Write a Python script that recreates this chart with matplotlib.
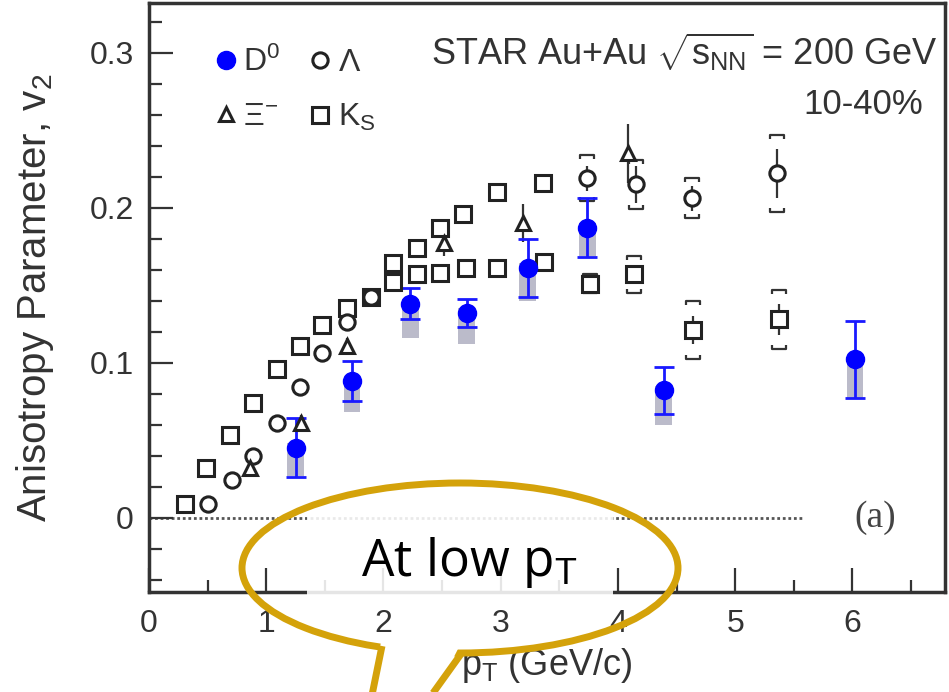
import numpy as np
import matplotlib.pyplot as plt
from matplotlib.patches import Ellipse, Polygon, Rectangle
from matplotlib.path import Path
from matplotlib.ticker import MultipleLocator

plt.rcParams['font.family'] = ['Liberation Sans', 'DejaVu Sans']
plt.rcParams['mathtext.fontset'] = 'custom'
plt.rcParams['mathtext.rm'] = 'Liberation Sans'
plt.rcParams['mathtext.it'] = 'Liberation Sans:italic'

# D0 (filled blue)
d0_pt = np.array([1.25, 1.73, 2.23, 2.71, 3.23, 3.74, 4.39, 6.02])
d0_v2 = np.array([0.045, 0.088, 0.138, 0.132, 0.161, 0.187, 0.082, 0.102])
d0_stat = np.array([0.019, 0.013, 0.010, 0.009, 0.019, 0.019, 0.015, 0.025])
d0_sys_lo = np.array([0.018, 0.020, 0.022, 0.020, 0.021, 0.018, 0.022, 0.025])
d0_sys_hi = np.array([0.003, 0.003, 0.003, 0.003, 0.003, 0.003, 0.003, 0.003])

# K0s (open squares)
ks_pt = np.array([0.31, 0.49, 0.69, 0.89, 1.09, 1.29, 1.48, 1.69, 1.89,
                  2.08, 2.29, 2.48, 2.68, 2.97, 3.36,
                  2.08, 2.29, 2.48, 2.70, 2.97, 3.37, 3.76, 4.14, 4.64, 5.37])
ks_v2 = np.array([0.009, 0.032, 0.053, 0.074, 0.096, 0.111, 0.124, 0.135, 0.142,
                  0.164, 0.174, 0.187, 0.196, 0.210, 0.216,
                  0.152, 0.157, 0.158, 0.161, 0.161, 0.165, 0.151, 0.157, 0.121, 0.128])
ks_stat = np.array([0] * 21 + [0.005, 0.006, 0.009, 0.010])
ks_sys = np.array([0] * 21 + [0.006, 0.012, 0.019, 0.019])

# Lambda (open circles)
lam_pt = np.array([0.50, 0.71, 0.89, 1.09, 1.29, 1.48, 1.69, 1.89, 3.74, 4.15, 4.63, 5.36])
lam_v2 = np.array([0.009, 0.024, 0.040, 0.061, 0.084, 0.106, 0.126, 0.142,
                   0.219, 0.215, 0.206, 0.222])
lam_stat = np.array([0] * 8 + [0.008, 0.012, 0.008, 0.016])
lam_sys = np.array([0] * 8 + [0.015, 0.016, 0.013, 0.025])

# Xi- (open triangles)
xi_pt = np.array([0.86, 1.30, 1.69, 2.52, 3.19, 4.09])
xi_v2 = np.array([0.032, 0.061, 0.111, 0.177, 0.190, 0.235])
xi_stat = np.array([0.005, 0.005, 0.005, 0.008, 0.012, 0.019])

x_ticks = [0, 1, 2, 3, 4, 5, 6]
x_labels = ['0', '1', '2', '3', '4', '5', '6']
y_ticks = [0, 0.1, 0.2, 0.3]
y_labels = ['0', '0.1', '0.2', '0.3']

DARK = '#333333'
GOLD = '#d4a20a'

top_br = Path([(-1, -0.6), (-1, 0), (1, 0), (1, -0.6)],
              [Path.MOVETO, Path.LINETO, Path.LINETO, Path.LINETO])
bot_br = Path([(-1, 0.6), (-1, 0), (1, 0), (1, 0.6)],
              [Path.MOVETO, Path.LINETO, Path.LINETO, Path.LINETO])


def brackets(ax, x, y, sys):
    m = sys > 0
    style = dict(ls='none', ms=10, mfc='none', mec=DARK, mew=1.6, zorder=3)
    ax.plot(x[m], y[m] + sys[m], marker=top_br, **style)
    ax.plot(x[m], y[m] - sys[m], marker=bot_br, **style)


fig = plt.figure(figsize=(9.49, 6.92), dpi=100)
ax = fig.add_axes([0.157, 0.1445, 0.8388, 0.8512])

ax.hlines(0, 0, 5.58, colors='#555555', linestyles=(0, (1, 1)), lw=2, zorder=1)

# D0 systematic boxes and stat errors
ax.bar(d0_pt, d0_sys_lo + d0_sys_hi, bottom=d0_v2 - d0_sys_lo, width=0.14,
       color='#8f8fa8', alpha=0.6, zorder=2)
ax.errorbar(d0_pt, d0_v2, yerr=d0_stat, fmt='none', ecolor='#1a1aff',
            elinewidth=2, capsize=7, capthick=2, zorder=4)

open_err = dict(fmt='none', ecolor=DARK, elinewidth=1.6, capsize=0, zorder=3)
ax.errorbar(ks_pt, ks_v2, yerr=ks_stat, **open_err)
ax.errorbar(lam_pt, lam_v2, yerr=lam_stat, **open_err)
ax.errorbar(xi_pt, xi_v2, yerr=xi_stat, **open_err)
brackets(ax, ks_pt, ks_v2, ks_sys)
brackets(ax, lam_pt, lam_v2, lam_sys)

open_mk = dict(ls='none', mfc='white', mec='#222222', mew=2.2, zorder=4)
h_ks, = ax.plot(ks_pt, ks_v2, marker='s', ms=11, label=r'K$_\mathrm{S}$', **open_mk)
h_lam, = ax.plot(lam_pt, lam_v2, marker='o', ms=11, label=r'$\Lambda$', **open_mk)
h_xi, = ax.plot(xi_pt, xi_v2, marker='^', ms=10, label=r'$\Xi^{-}$', **open_mk)
h_d0, = ax.plot(d0_pt, d0_v2, 'o', color='#0000ff', ms=13, label=r'D$^0$', zorder=5)

handles = [h_d0, h_xi, h_lam, h_ks]
ax.legend(handles, [h.get_label() for h in handles],
          ncol=2, loc='upper left', bbox_to_anchor=(0.046, 0.975), frameon=False,
          fontsize=23, handlelength=0.7, handletextpad=0.2, columnspacing=0.9,
          labelspacing=0.75, labelcolor=DARK)

ax.set_xlim(0, 6.79)
ax.set_ylim(-0.048, 0.332)
ax.set_xticks(x_ticks, x_labels)
ax.set_yticks(y_ticks, y_labels)
ax.xaxis.set_minor_locator(MultipleLocator(0.5))
ax.yaxis.set_minor_locator(MultipleLocator(0.02))
ax.tick_params(which='both', direction='in', top=False, right=False,
               width=1.6, color=DARK, labelcolor=DARK, labelsize=23)
ax.tick_params(which='major', length=17)
ax.tick_params(which='minor', length=9)
ax.tick_params(axis='y', pad=11)
ax.tick_params(axis='x', pad=12)
for s in ax.spines.values():
    s.set_linewidth(2.5)
    s.set_color(DARK)

ax.set_xlabel(r'p$_\mathrm{T}$ (GeV/c)', fontsize=26, color=DARK, labelpad=5)
ax.set_ylabel(r'Anisotropy Parameter, v$_\mathrm{2}$', fontsize=29, color=DARK, labelpad=24)

ax.text(0.991, 0.917, r'STAR Au+Au $\sqrt{\mathrm{s_{NN}}}$ = 200 GeV',
        transform=ax.transAxes, ha='right', va='center', fontsize=26, color=DARK)
ax.text(0.973, 0.827, '10-40%', transform=ax.transAxes, ha='right', va='center',
        fontsize=25, color=DARK)
ax.text(0.912, 0.127, '(a)', transform=ax.transAxes, ha='center', va='center',
        fontsize=27, color='#444444', family='Liberation Serif')

# speech bubble overlay in pixel coordinates
ov = fig.add_axes([0, 0, 1, 1])
ov.set_xlim(0, 949)
ov.set_ylim(692, 0)
ov.axis('off')
ov.add_patch(Rectangle((307, 508), 306, 92, facecolor='white', edgecolor='none', alpha=0.88))
ov.add_patch(Ellipse((460, 568), 436, 170, fill=False, edgecolor=GOLD, lw=5))
ov.add_patch(Polygon([(382, 638), (460, 645), (432, 700), (368, 700)],
                     closed=True, facecolor='white', edgecolor='none'))
ov.plot([382, 371], [646, 700], color=GOLD, lw=5, solid_capstyle='butt')
ov.plot([461, 428], [654, 700], color=GOLD, lw=5, solid_capstyle='butt')
ov.text(469, 562, r'At low p$_\mathrm{T}$', ha='center', va='center',
        fontsize=37, color='black', family='Open Sans')

fig.savefig('out.png', dpi=100)
